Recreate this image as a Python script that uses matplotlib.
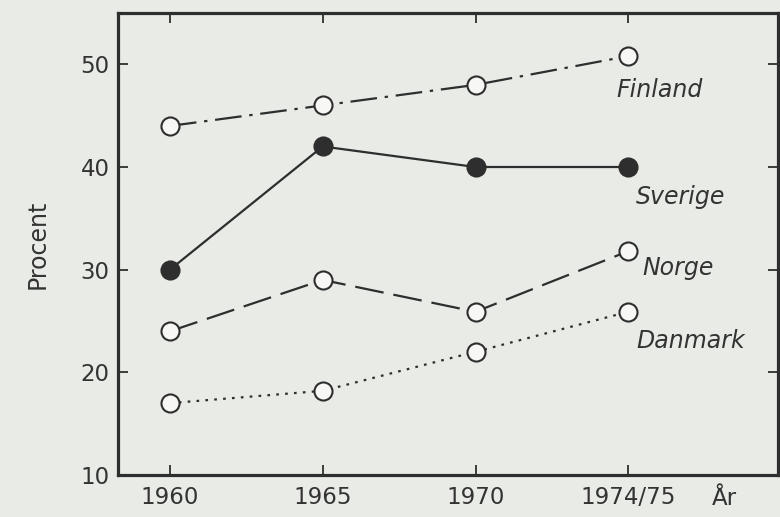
import matplotlib
matplotlib.use("Agg")
import matplotlib.pyplot as plt

years = ["1960", "1965", "1970", "1974/75"]
finland = [44, 46, 48, 50.8]
sverige = [30, 42, 40, 40]
norge = [24, 29, 25.9, 31.8]
danmark = [17, 18.2, 22, 25.9]
yticks = [10, 20, 30, 40, 50]

bg = "#e9ebe6"
ink = "#2e2e2e"

fig = plt.figure(figsize=(7.8, 5.17), dpi=100, facecolor=bg)
ax = fig.add_axes([118/780, 42/517, 660/780, 462/517], facecolor=bg)

x = list(range(len(years)))
common = dict(color=ink, lw=1.6, marker="o", markersize=13, markeredgewidth=1.5,
              markeredgecolor=ink)
ax.plot(x, finland, dashes=(12, 3.5, 1.5, 3.5), markerfacecolor="#f7f7f5", **common)
ax.plot(x, sverige, linestyle="-", markerfacecolor=ink, **common)
ax.plot(x, norge, dashes=(13, 4.5), markerfacecolor="#f7f7f5", **common)
ax.plot(x, danmark, dashes=(1.2, 2.8), markerfacecolor="#f7f7f5", **common)

ax.set_xlim(-0.34, 3.98)
ax.set_ylim(10, 55)
ax.set_xticks(x)
ax.set_xticklabels(years)
ax.set_yticks(yticks)

for s in ax.spines.values():
    s.set_linewidth(2.3)
    s.set_color(ink)
ax.tick_params(direction="in", length=7, width=1.3, colors=ink, labelsize=16.5,
               top=True, right=True, labelcolor="#333333")
ax.tick_params(axis="y", pad=6)
ax.tick_params(axis="x", pad=8)
ax.set_ylabel("Procent", fontsize=17, color="#333333", labelpad=22)

tk = dict(fontsize=17, style="italic", color="#333333")
ax.text(2.92, 47.5, "Finland", ha="left", va="center", **tk)
ax.text(3.05, 37.1, "Sverige", ha="left", va="center", **tk)
ax.text(3.09, 30.2, "Norge", ha="left", va="center", **tk)
ax.text(3.05, 23.1, "Danmark", ha="left", va="center", **tk)

ax.text(3.55, -0.05, "År", transform=ax.get_xaxis_transform(), ha="left", va="center",
        fontsize=16.5, color="#333333")

fig.savefig("out.png", dpi=100, facecolor=bg)
